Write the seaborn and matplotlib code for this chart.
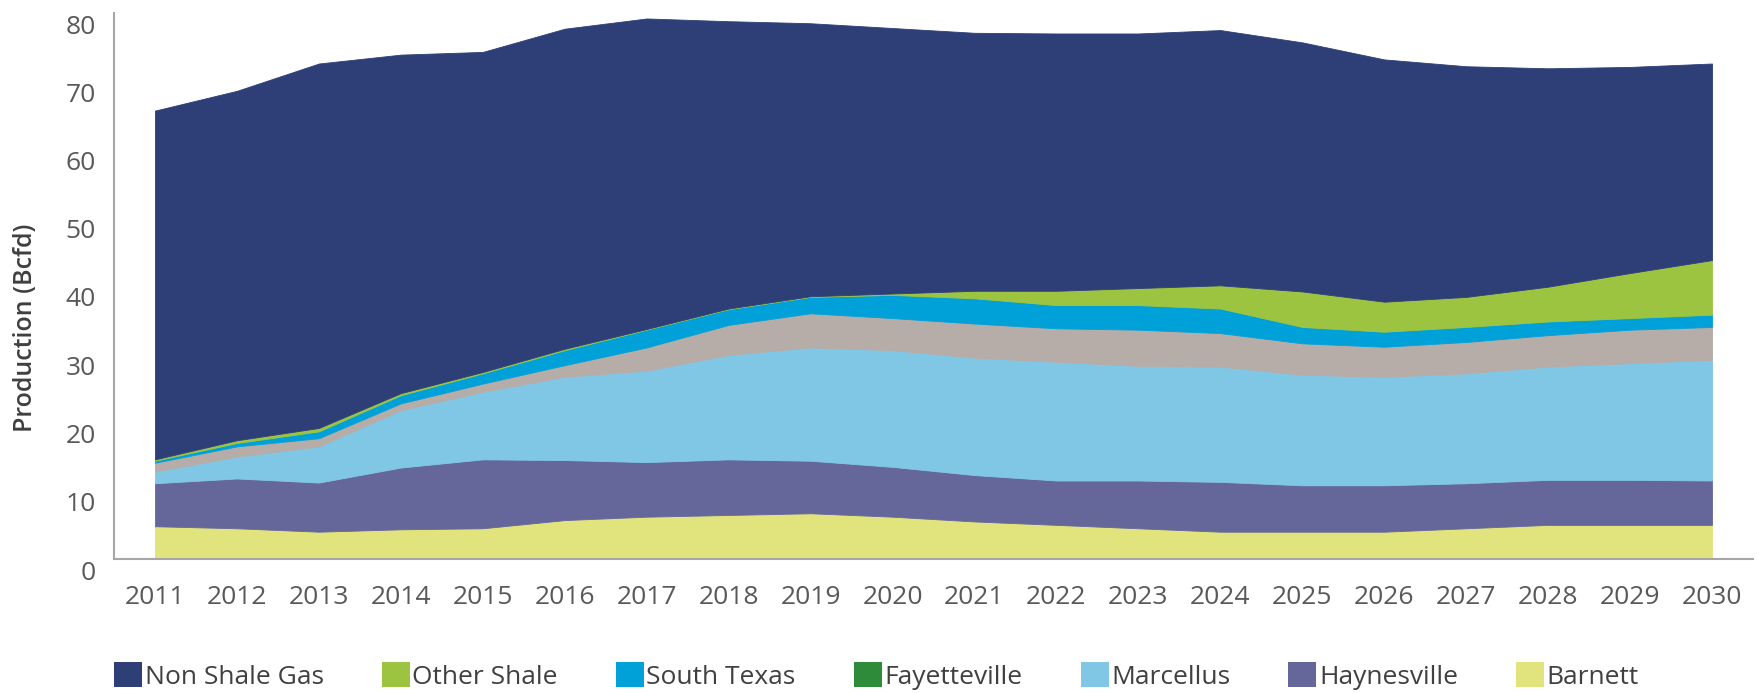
import numpy as np
import seaborn as sns
import matplotlib.pyplot as plt
from matplotlib.patches import Patch
from matplotlib.transforms import ScaledTranslation

# Gas production by play, Bcfd (layer thickness, stacked bottom -> top)
years = [2011, 2012, 2013, 2014, 2015, 2016, 2017, 2018, 2019, 2020,
         2021, 2022, 2023, 2024, 2025, 2026, 2027, 2028, 2029, 2030]
barnett = [4.8, 4.5, 4.0, 4.35, 4.5, 5.7, 6.2, 6.45, 6.7, 6.2,
           5.5, 5.0, 4.5, 4.0, 4.0, 4.0, 4.5, 5.0, 5.0, 5.0]
haynesville = [6.3, 7.3, 7.2, 9.05, 10.1, 8.8, 8.0, 8.15, 7.7, 7.3,
               6.8, 6.5, 7.0, 7.3, 6.8, 6.8, 6.6, 6.6, 6.6, 6.5]
marcellus = [1.7, 3.2, 5.3, 8.4, 9.9, 12.2, 13.4, 15.3, 16.6, 17.1,
             17.2, 17.4, 16.8, 16.9, 16.2, 15.9, 16.1, 16.6, 17.1, 17.7]
fayetteville = [1.3, 1.5, 1.2, 1.0, 1.2, 1.7, 3.4, 4.4, 5.0, 4.7,
                5.0, 4.9, 5.3, 4.9, 4.6, 4.4, 4.6, 4.6, 4.9, 4.8]
south_texas = [0.3, 0.5, 1.0, 1.2, 1.5, 2.2, 2.6, 2.3, 2.4, 3.4,
               3.7, 3.4, 3.6, 3.6, 2.4, 2.2, 2.2, 2.0, 1.7, 1.8]
other_shale = [0.2, 0.4, 0.5, 0.3, 0.2, 0.2, 0.1, 0.1, 0.1, 0.2,
               1.1, 2.1, 2.5, 3.4, 5.2, 4.4, 4.4, 5.1, 6.6, 8.0]
non_shale = [51.1, 51.2, 53.4, 49.6, 46.9, 46.9, 45.5, 42.1, 40.0, 38.9,
             37.8, 37.7, 37.3, 37.4, 36.5, 35.5, 33.8, 32.0, 30.2, 28.8]

series = [barnett, haynesville, marcellus, fayetteville, south_texas, other_shale, non_shale]
colors = ["#e1e37c", "#65679b", "#80c6e5", "#b6aca8", "#00a1d8", "#9cc440", "#2e3f78"]

legend_names = ["Non Shale Gas", "Other Shale", "South Texas", "Fayetteville",
                "Marcellus", "Haynesville", "Barnett"]
legend_colors = ["#2e3f78", "#9cc440", "#00a1d8", "#2e8b3a", "#80c6e5", "#65679b", "#e1e37c"]

sns.set_theme(style="white")
plt.rcParams["font.family"] = ["Open Sans", "DejaVu Sans"]

fig = plt.figure(figsize=(17.59, 6.93), dpi=100)
ax = fig.add_axes([114 / 1759, 1 - 559 / 693, (1753 - 114) / 1759, (559 - 13) / 693])

x = np.arange(len(years))
ax.stackplot(x, *series, colors=colors, linewidth=0.6, edgecolor="face")

ax.set_xlim(-0.5, len(years) - 0.5)
ax.set_ylim(0, 80)
ax.set_xticks(x)
ax.set_xticklabels([str(y) for y in years])
ax.set_yticks(range(0, 81, 10))

grey_text = "#595959"
ax.tick_params(axis="x", length=0, pad=19, labelsize=19, labelcolor=grey_text)
ax.tick_params(axis="y", length=0, pad=13, labelsize=19, labelcolor=grey_text)

# the value labels sit a little below their tick positions in the original
shift = ScaledTranslation(0, -11 / 100, fig.dpi_scale_trans)
for lbl in ax.get_yticklabels():
    lbl.set_transform(lbl.get_transform() + shift)

sns.despine(ax=ax, top=True, right=True)
for side in ["left", "bottom"]:
    ax.spines[side].set_color("#a6a6a6")
    ax.spines[side].set_linewidth(1.5)

ax.set_ylabel("Production (Bcfd)", fontsize=18, color="#3f3f3f", fontweight="semibold")
ax.yaxis.set_label_coords((38 - 114) / 1639, 0.423)

handles = [Patch(facecolor=c, edgecolor="none") for c in legend_colors]
fig.legend(handles, legend_names, loc="center left", bbox_to_anchor=(114 / 1759, 1 - 676 / 693),
           ncol=7, frameon=False, fontsize=19, labelcolor="#404040",
           handlelength=1.06, handleheight=1.06, handletextpad=0.1,
           columnspacing=2.2, borderpad=0, borderaxespad=0)

fig.savefig("out.png", dpi=100)
